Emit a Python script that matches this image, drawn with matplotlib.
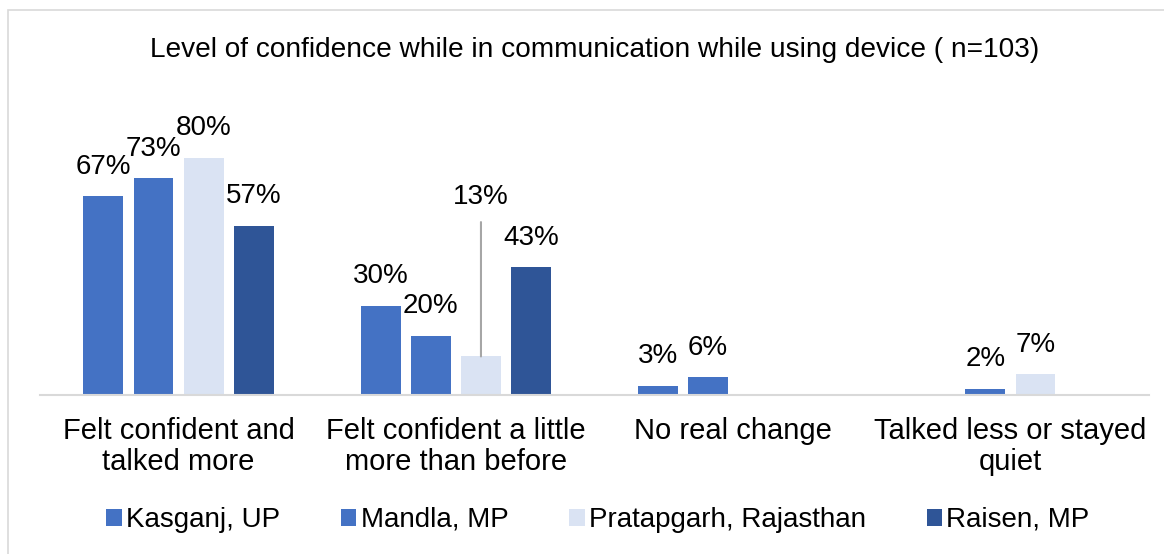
import matplotlib.pyplot as plt
import numpy as np
from matplotlib.patches import Rectangle

plt.rcParams['font.family'] = ['Liberation Sans', 'DejaVu Sans']

categories = ['Felt confident and\ntalked more',
              'Felt confident a little\nmore than before',
              'No real change',
              'Talked less or stayed\nquiet']
series = ['Kasganj, UP', 'Mandla, MP', 'Pratapgarh, Rajasthan', 'Raisen, MP']
# None = no bar / no label for that district
values = [
    [67, 30, 3, None],
    [73, 20, 6, 2],
    [80, 13, None, 7],
    [57, 43, None, None],
]
colors = ['#4472C4', '#4472C4', '#DAE3F3', '#2F5597']
title = 'Level of confidence while in communication while using device ( n=103)'

W, H = 1164, 554
fig = plt.figure(figsize=(W / 100, H / 100), dpi=100)

# outer chart frame
fig.patches.append(Rectangle((8 / W, -0.1), 1.2, (H - 10) / H + 0.1,
                             transform=fig.transFigure, fill=False,
                             edgecolor='#D9D9D9', linewidth=1.2))

ax = fig.add_axes([40 / W, (H - 395) / H, (1149 - 40) / W, 267 / H])
x = np.arange(len(categories))
width = 0.144
step = 0.181

for i, (name, vals, c) in enumerate(zip(series, values, colors)):
    pos = x + (i - 1.5) * step
    hs = [v if v is not None else 0 for v in vals]
    ax.bar(pos, [h / 100 for h in hs], width, color=c, label=name)
    for j, v in enumerate(vals):
        if v is None:
            continue
        if i == 2 and j == 1:
            # label lifted above its bar with a leader line
            ax.annotate(f'{v}%', xy=(pos[j], v / 100), xytext=(pos[j], 0.625),
                        ha='center', va='bottom', fontsize=20,
                        arrowprops=dict(arrowstyle='-', color='#A6A6A6',
                                        lw=1.5, shrinkA=7, shrinkB=0))
        else:
            ax.annotate(f'{v}%', xy=(pos[j], v / 100), xytext=(0, 12),
                        textcoords='offset points', ha='center', va='bottom',
                        fontsize=20, annotation_clip=False)

ax.set_xlim(-0.5, len(categories) - 0.5)
ax.set_ylim(0, 0.9)
ax.set_yticks([])
ax.set_xticks(x)
ax.set_xticklabels(categories, fontsize=21, linespacing=1.12)
ax.tick_params(axis='x', length=0, pad=16)
for s in ['top', 'right', 'left']:
    ax.spines[s].set_visible(False)
ax.spines['bottom'].set_color('#D9D9D9')
ax.spines['bottom'].set_linewidth(1.5)

fig.text(595 / W, 1 - 50 / H, title, ha='center', va='center', fontsize=20.2)

fig.legend(loc='center', bbox_to_anchor=(598 / W, 1 - 520 / H), ncol=4,
           frameon=False, fontsize=20, handlelength=0.55, handleheight=0.55,
           handletextpad=0.15, columnspacing=2.2)

fig.savefig('out.png', dpi=100)
